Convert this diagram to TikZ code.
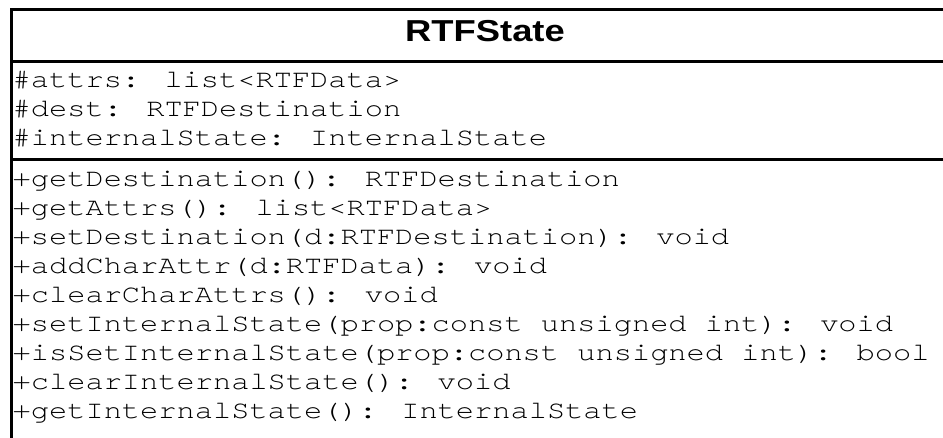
\documentclass[tikz,border=0pt]{standalone}
\usepackage{fontspec}
\setmainfont{Liberation Sans}
\newfontfamily\monofam[FakeStretch=1.2]{TeX Gyre Cursor}
\begin{document}
\begin{tikzpicture}[x=1pt, y=-1pt,
  frame/.style={draw=black, line width=3pt},
  member/.style={anchor=base west, inner sep=0pt,
    font=\monofam\fontsize{25.3}{29}\selectfont},
  classname/.style={anchor=base, inner sep=0pt,
    font=\bfseries\fontsize{30.3}{30.3}\selectfont}]
  \useasboundingbox (0,0) rectangle (943,437);
  \clip (0,0) rectangle (943,437);

  % class box, running on past the right and bottom edges
  \draw[frame] (11.5,9) rectangle (958.5,470);
  \draw[frame] (11.5,61.5) -- (958.5,61.5);
  \draw[frame] (11.5,159.5) -- (958.5,159.5);

  % class name
  \node[classname] (title) at (485,41.7) {\scalebox{1.2}[1]{RTFState}};

  % attributes
  \node[member] (a1) at (12.5,87)  {\#attrs: list<RTFData>};
  \node[member] (a2) at (12.5,116) {\#dest: RTFDestination};
  \node[member] (a3) at (12.5,145) {\#internalState: InternalState};

  % operations
  \node[member] (m1) at (12.5,186) {+getDestination(): RTFDestination};
  \node[member] (m2) at (12.5,215) {+getAttrs(): list<RTFData>};
  \node[member] (m3) at (12.5,244) {+setDestination(d:RTFDestination): void};
  \node[member] (m4) at (12.5,273) {+addCharAttr(d:RTFData): void};
  \node[member] (m5) at (12.5,302) {+clearCharAttrs(): void};
  \node[member] (m6) at (12.5,331) {+setInternalState(prop:const unsigned int): void};
  \node[member] (m7) at (12.5,360) {+isSetInternalState(prop:const unsigned int): bool};
  \node[member] (m8) at (12.5,389) {+clearInternalState(): void};
  \node[member] (m9) at (12.5,418) {+getInternalState(): InternalState};
\end{tikzpicture}
\end{document}
